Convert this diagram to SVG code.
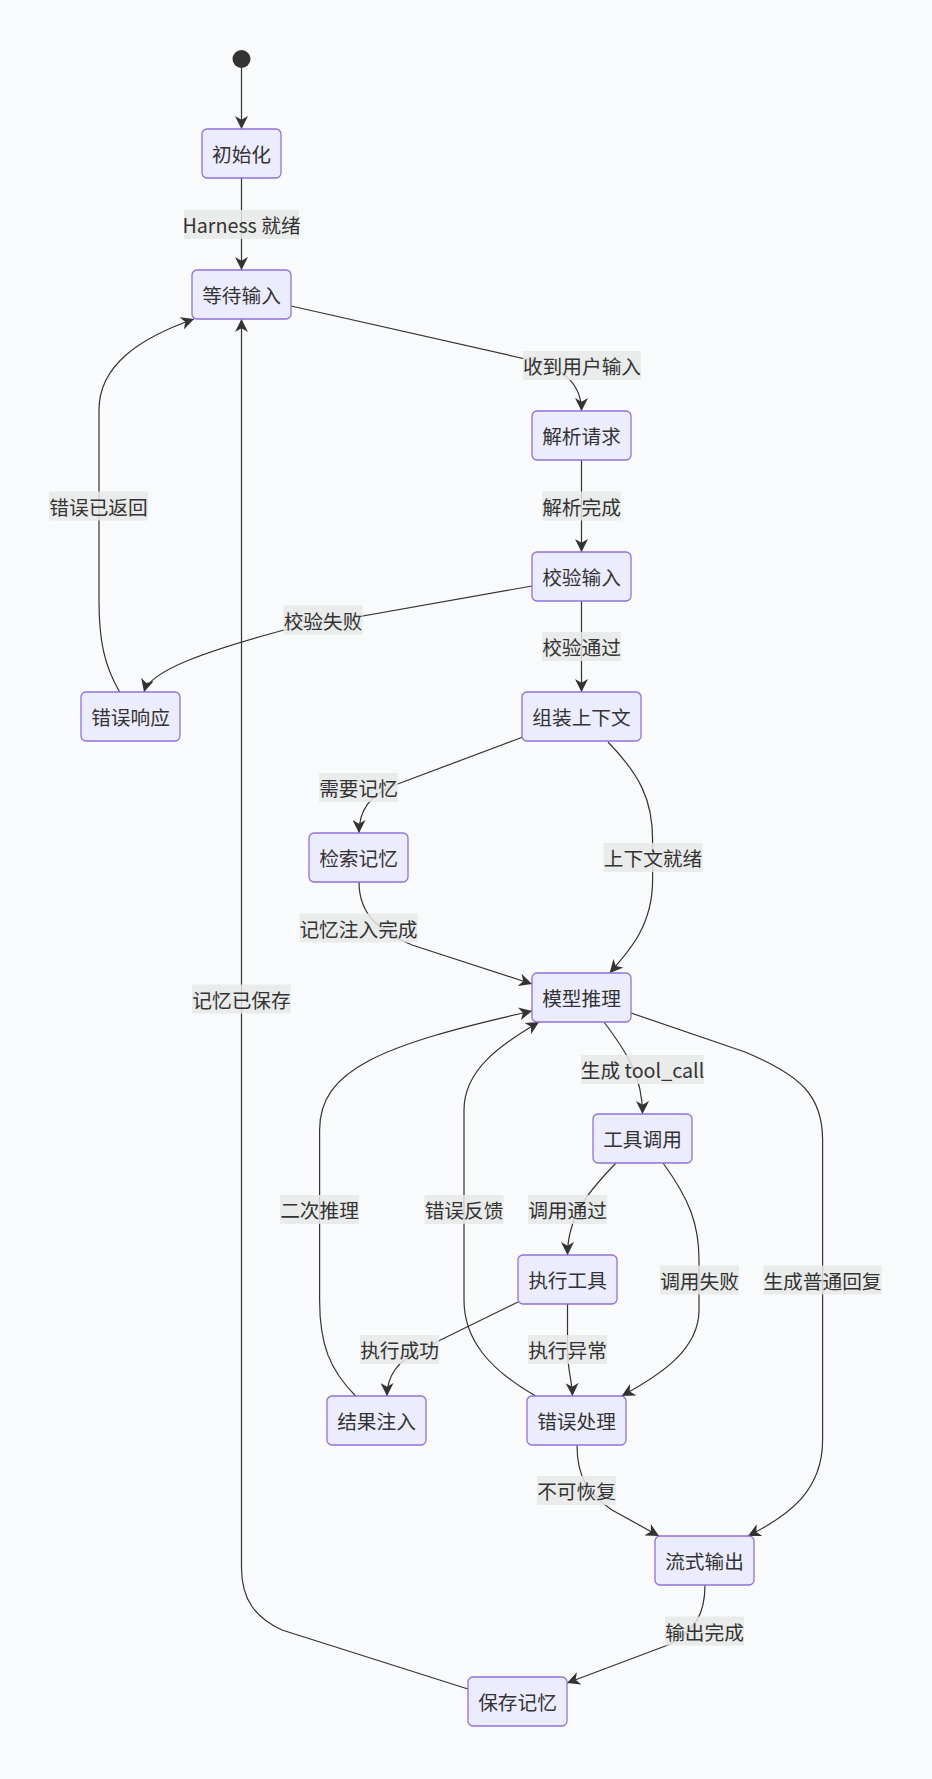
<svg xmlns="http://www.w3.org/2000/svg" width="932" height="1779" viewBox="0 0 932 1779">
<style>
.bg{fill:#f9fafc}
.node rect{fill:#ececff;stroke:#9370db;stroke-width:1.3}
.node text,.lbl text{font-family:"Noto Sans CJK SC","Liberation Sans",sans-serif;font-size:19.7px;fill:#333;text-anchor:middle;dominant-baseline:central}
.lbl rect{fill:#e8e8e8;opacity:0.85}
.edges path{fill:none;stroke:#333;stroke-width:1.2;marker-end:url(#arr)}
</style>
<defs>
<marker id="arr" markerUnits="userSpaceOnUse" markerWidth="13" markerHeight="13" viewBox="0 0 12 12" refX="12" refY="6" orient="auto">
<path d="M0,0 L12,6 L0,12 L3.5,6 z" fill="#333"/>
</marker>
</defs>
<rect class="bg" x="0" y="0" width="932" height="1779"/>
<g id="edges" class="edges">
<path d="M241.5,68 L241.5,129"/>
<path d="M241.5,178 L241.5,270"/>
<path d="M291,306 L530,360 C565,368 581.5,385 581.5,411"/>
<path d="M581.5,460 L581.5,552"/>
<path d="M532,586 L284,630 C210,650 150,670 144,692"/>
<path d="M581.5,601 L581.5,692"/>
<path d="M119.6,692 C104,665 99,640 99,600 L99,410 C99,365 140,338 194,319"/>
<path d="M523,737 L395,785 C370,795 359,810 359,833"/>
<path d="M608,742 C640,775 652.6,800 652.6,840 L652.6,880 C652.6,925 630,950 609.7,973"/>
<path d="M359,882 C359,915 380,932 412,945 L532,984"/>
<path d="M604,1022 C625,1050 642.5,1075 642.5,1114"/>
<path d="M631,1013 L745,1052 C800,1075 822.6,1095 822.6,1140 L822.6,1440 C822.6,1490 790,1515 748,1536"/>
<path d="M616,1163 C590,1190 567.5,1215 567.5,1255"/>
<path d="M663,1163 C690,1200 699,1225 699,1260 L699,1310 C699,1350 660,1375 621.7,1396"/>
<path d="M518,1302 L420,1350 C395,1362 387,1378 387,1396"/>
<path d="M567.5,1304 L567.5,1350 C567.5,1370 572,1380 572.5,1396"/>
<path d="M355.6,1396 C330,1370 319.6,1345 319.6,1300 L319.6,1130 C319.6,1070 380,1045 532,1011"/>
<path d="M535.6,1396 C490,1370 464,1340 464,1300 L464,1110 C464,1070 500,1045 539,1022"/>
<path d="M577,1445 C577,1480 590,1495 612,1510 L659,1536"/>
<path d="M705,1585 C705,1615 695,1630 668,1645 L567,1683"/>
<path d="M468,1689 L282,1630 C256,1618 241.5,1600 241.5,1568 L241.5,319"/>
</g>
<g id="labels">
<g class="lbl"><rect x="184" y="210" width="115" height="29"/><text x="241.5" y="224.5">Harness 就绪</text></g>
<g class="lbl"><rect x="523" y="351" width="118" height="29"/><text x="582" y="365.5">收到用户输入</text></g>
<g class="lbl"><rect x="542" y="491.5" width="79" height="29"/><text x="581.5" y="506">解析完成</text></g>
<g class="lbl"><rect x="283.5" y="605.5" width="79" height="29"/><text x="323" y="620">校验失败</text></g>
<g class="lbl"><rect x="542" y="632" width="79" height="29"/><text x="581.5" y="646.5">校验通过</text></g>
<g class="lbl"><rect x="49" y="491.5" width="99" height="29"/><text x="98.5" y="506">错误已返回</text></g>
<g class="lbl"><rect x="319" y="773" width="79" height="29"/><text x="358.5" y="787.5">需要记忆</text></g>
<g class="lbl"><rect x="603.5" y="843" width="99" height="29"/><text x="653" y="857.5">上下文就绪</text></g>
<g class="lbl"><rect x="299.5" y="913.5" width="118" height="29"/><text x="358.5" y="928">记忆注入完成</text></g>
<g class="lbl"><rect x="192" y="984.5" width="99" height="29"/><text x="241.5" y="999">记忆已保存</text></g>
<g class="lbl"><rect x="581" y="1055" width="123" height="29"/><text x="642.5" y="1069.5">生成 tool_call</text></g>
<g class="lbl"><rect x="528" y="1195" width="79" height="29"/><text x="567.5" y="1209.5">调用通过</text></g>
<g class="lbl"><rect x="280" y="1195" width="79" height="29"/><text x="319.5" y="1209.5">二次推理</text></g>
<g class="lbl"><rect x="424.5" y="1195" width="79" height="29"/><text x="464" y="1209.5">错误反馈</text></g>
<g class="lbl"><rect x="660" y="1265.5" width="79" height="29"/><text x="699.5" y="1280">调用失败</text></g>
<g class="lbl"><rect x="763.5" y="1265.5" width="118" height="29"/><text x="822.5" y="1280">生成普通回复</text></g>
<g class="lbl"><rect x="360" y="1335" width="79" height="29"/><text x="399.5" y="1349.5">执行成功</text></g>
<g class="lbl"><rect x="528" y="1335" width="79" height="29"/><text x="567.5" y="1349.5">执行异常</text></g>
<g class="lbl"><rect x="537" y="1476" width="79" height="29"/><text x="576.5" y="1490.5">不可恢复</text></g>
<g class="lbl"><rect x="665" y="1616.5" width="79" height="29"/><text x="704.5" y="1631">输出完成</text></g>
</g>
<g id="start"><circle cx="241.5" cy="59" r="9" fill="#333"/></g>
<g id="n_init" class="node"><rect x="202" y="129" width="79" height="49" rx="5"/><text x="241.5" y="153.5">初始化</text></g>
<g id="n_wait" class="node"><rect x="192" y="270" width="99" height="49" rx="5"/><text x="241.5" y="294.5">等待输入</text></g>
<g id="n_parse" class="node"><rect x="532" y="411" width="99" height="49" rx="5"/><text x="581.5" y="435.5">解析请求</text></g>
<g id="n_validate" class="node"><rect x="532" y="552" width="99" height="49" rx="5"/><text x="581.5" y="576.5">校验输入</text></g>
<g id="n_errresp" class="node"><rect x="81" y="692" width="99" height="49" rx="5"/><text x="130.5" y="716.5">错误响应</text></g>
<g id="n_context" class="node"><rect x="522" y="692" width="119" height="49" rx="5"/><text x="581.5" y="716.5">组装上下文</text></g>
<g id="n_retrieve" class="node"><rect x="309" y="833" width="99" height="49" rx="5"/><text x="358.5" y="857.5">检索记忆</text></g>
<g id="n_model" class="node"><rect x="532" y="973" width="99" height="49" rx="5"/><text x="581.5" y="997.5">模型推理</text></g>
<g id="n_toolcall" class="node"><rect x="593" y="1114" width="99" height="49" rx="5"/><text x="642.5" y="1138.5">工具调用</text></g>
<g id="n_exec" class="node"><rect x="518" y="1255" width="99" height="49" rx="5"/><text x="567.5" y="1279.5">执行工具</text></g>
<g id="n_inject" class="node"><rect x="327" y="1396" width="99" height="49" rx="5"/><text x="376.5" y="1420.5">结果注入</text></g>
<g id="n_errhandle" class="node"><rect x="527" y="1396" width="99" height="49" rx="5"/><text x="576.5" y="1420.5">错误处理</text></g>
<g id="n_stream" class="node"><rect x="655" y="1536" width="99" height="49" rx="5"/><text x="704.5" y="1560.5">流式输出</text></g>
<g id="n_save" class="node"><rect x="468" y="1677" width="99" height="49" rx="5"/><text x="517.5" y="1701.5">保存记忆</text></g>
</svg>
